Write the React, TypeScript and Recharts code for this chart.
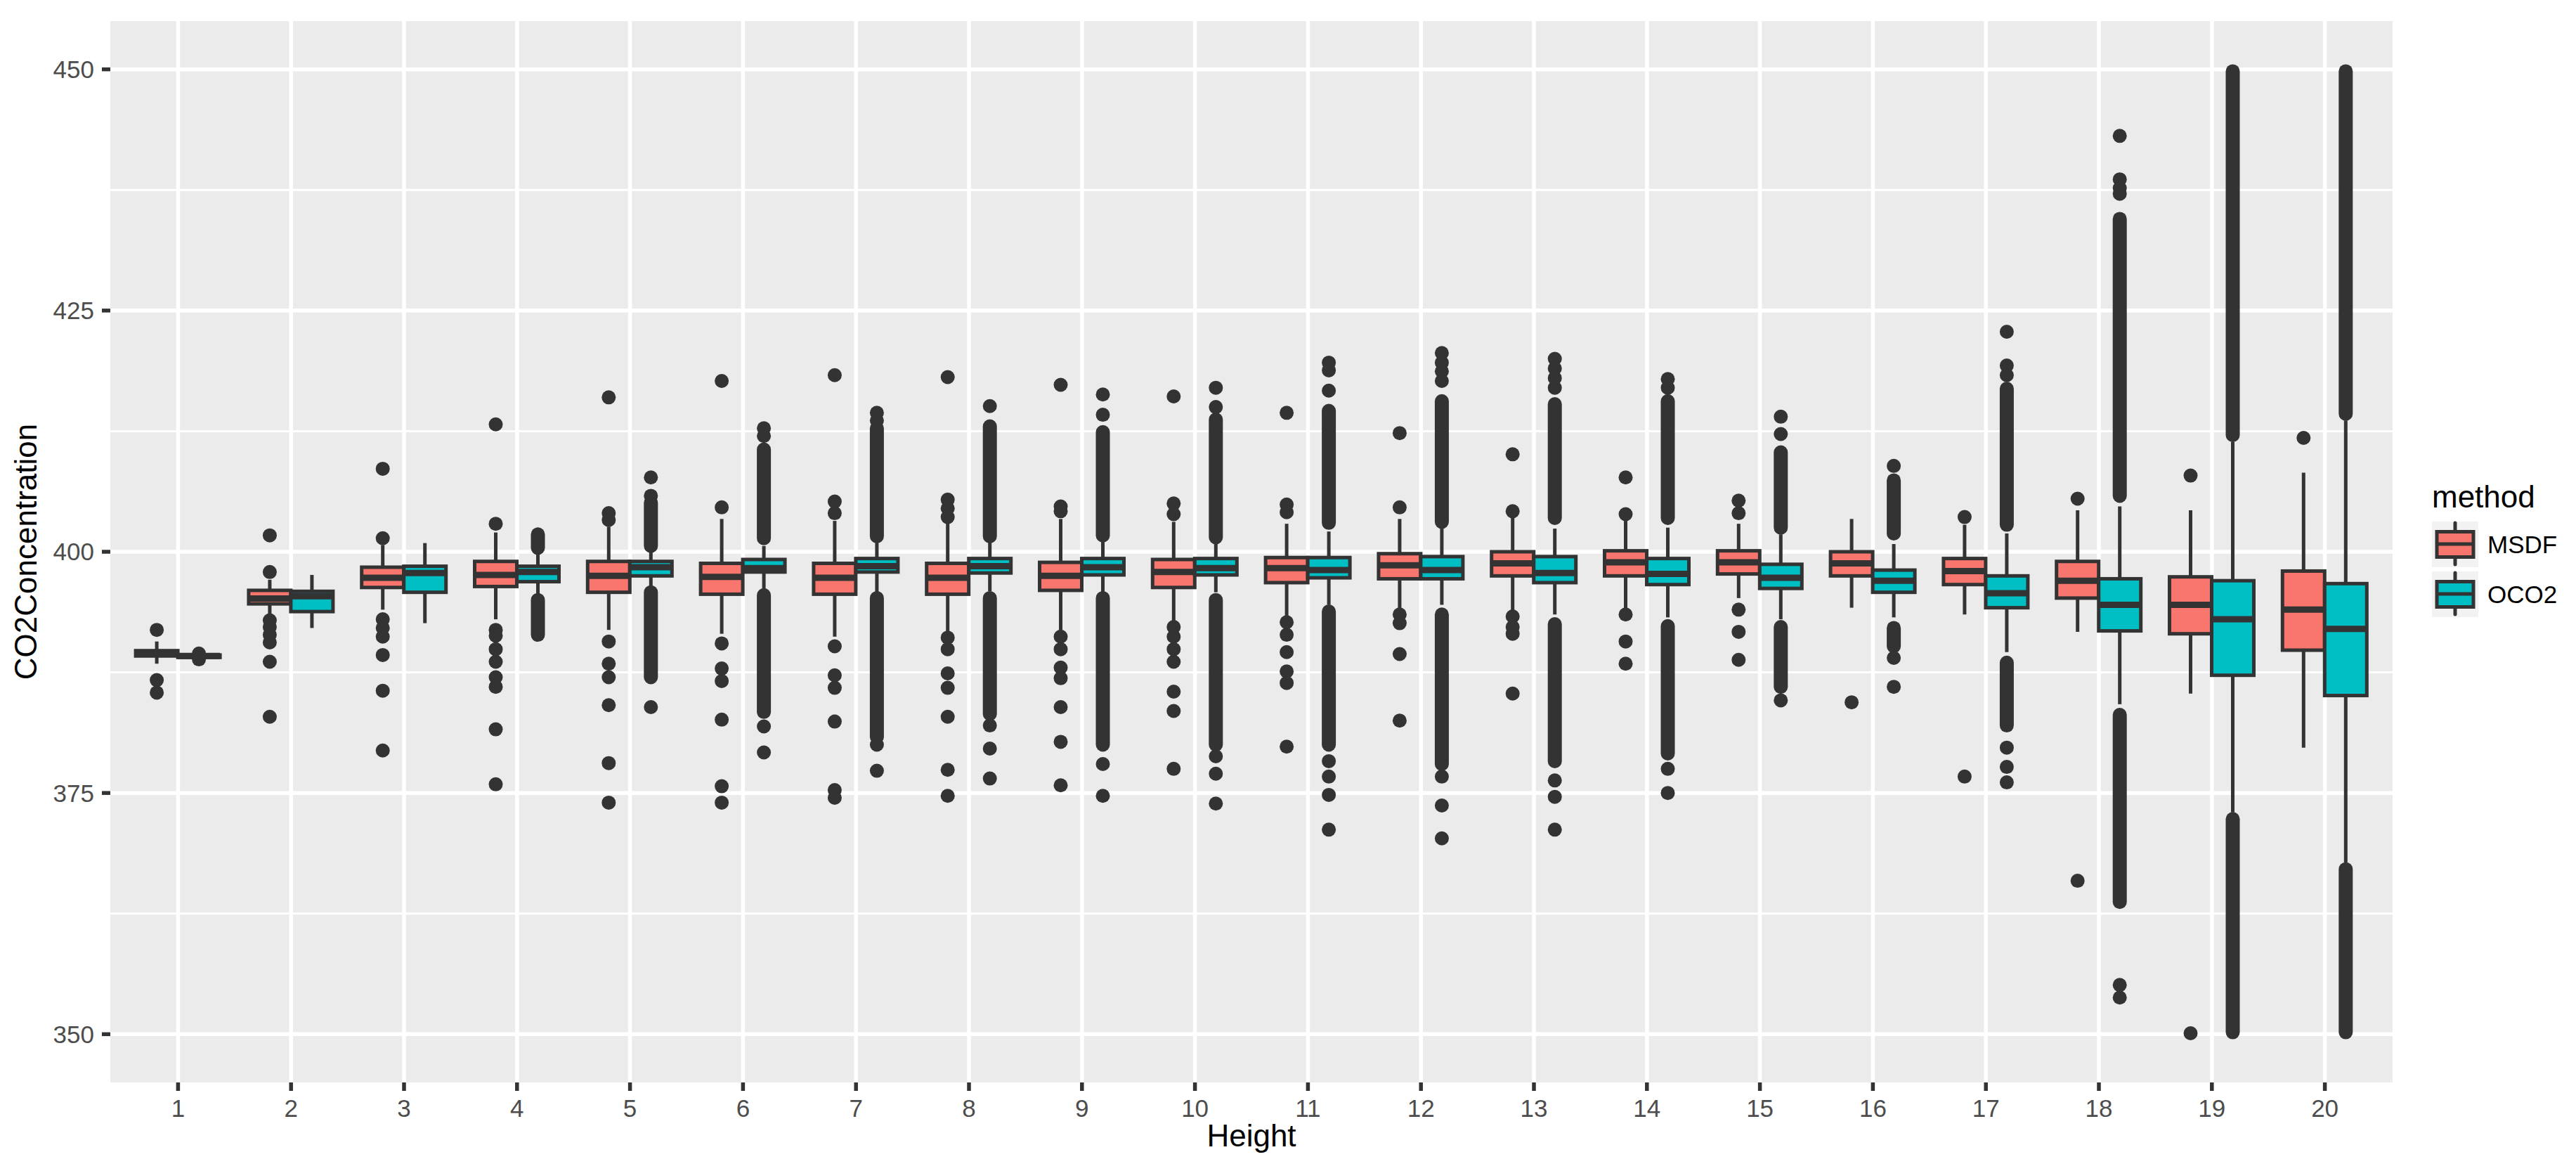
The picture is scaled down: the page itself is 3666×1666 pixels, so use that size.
import React from "react";
import { Bar, CartesianGrid, ComposedChart, Label, XAxis, YAxis } from "recharts";

const heights = ["1", "2", "3", "4", "5", "6", "7", "8", "9", "10", "11", "12", "13", "14", "15", "16", "17", "18", "19", "20"];
const yTicks = [350, 375, 400, 425, 450];
const yMinorTicks = [362.5, 387.5, 412.5, 437.5];
const yDomain = [345, 455];

// MSDF box statistics, one value per height
const msdfLower = [388.4, 393.4, 394.0, 393.0, 391.9, 391.5, 391.2, 391.5, 391.9, 392.7, 393.3, 394.0, 393.8, 393.8, 395.2, 394.2, 393.5, 391.7, 385.3, 379.7];
const msdfQ1 = [389.2, 394.6, 396.3, 396.4, 395.8, 395.6, 395.6, 395.6, 396.0, 396.3, 396.8, 397.2, 397.5, 397.5, 397.7, 397.5, 396.6, 395.2, 391.5, 389.8];
const msdfMedian = [389.45, 395.15, 397.3, 397.6, 397.5, 397.4, 397.3, 397.3, 397.5, 397.9, 398.3, 398.6, 398.8, 398.9, 398.9, 398.8, 398.0, 397.0, 394.5, 394.0];
const msdfQ3 = [389.75, 396.0, 398.4, 399.0, 399.0, 398.8, 398.8, 398.8, 398.9, 399.2, 399.4, 399.8, 400.0, 400.1, 400.1, 400.0, 399.3, 399.0, 397.4, 398.0];
const msdfUpper = [390.7, 397.1, 400.7, 402.0, 402.6, 403.4, 403.2, 403.2, 403.4, 403.1, 402.9, 403.4, 403.6, 403.2, 402.9, 403.4, 402.8, 404.3, 404.3, 408.2];
const msdfOutliers = [
  [391.9, 386.7, 385.4],
  [401.7, 397.9, 392.9, 392.2, 391.4, 390.6, 388.6, 382.9],
  [408.6, 401.4, 393.0, 392.1, 391.2, 389.3, 385.6, 379.4],
  [413.2, 402.9, 391.9, 391.3, 389.9, 388.6, 387.0, 386.0, 381.6, 375.9],
  [416.0, 404.0, 403.3, 390.7, 388.4, 387.0, 384.1, 378.1, 374.0],
  [417.7, 404.6, 390.5, 387.9, 386.6, 382.6, 375.7, 374.0],
  [418.3, 405.2, 404.0, 390.2, 387.2, 385.9, 382.4, 375.3, 374.5],
  [418.1, 405.4, 404.5, 403.6, 391.1, 389.9, 387.4, 385.9, 382.9, 377.4, 374.7],
  [417.3, 404.7, 404.2, 391.2, 389.9, 388.0, 386.9, 383.9, 380.3, 375.8],
  [416.1, 405.0, 403.9, 392.2, 391.2, 389.9, 388.6, 385.5, 383.5, 377.5],
  [414.4, 404.9, 404.1, 392.7, 391.4, 389.6, 387.6, 386.4, 379.8],
  [412.3, 404.6, 393.5, 392.6, 389.4, 382.5],
  [410.1, 404.2, 393.3, 392.2, 391.5, 385.3],
  [407.7, 403.9, 393.5, 390.7, 388.4],
  [405.3, 404.0, 394.0, 391.7, 388.8],
  [384.4],
  [403.6, 376.7],
  [405.5, 365.9],
  [407.9, 350.1],
  [411.8],
];

// OCO2 box statistics
const oco2Lower = [389.0, 392.1, 392.6, 395.6, 396.3, 396.2, 395.8, 395.9, 395.8, 395.8, 394.5, 394.5, 393.5, 393.2, 393.0, 393.2, 389.6, 384.2, 373.0, 367.8];
const oco2Q1 = [389.05, 393.8, 395.8, 396.9, 397.5, 397.9, 397.9, 397.8, 397.6, 397.6, 397.3, 397.2, 396.8, 396.6, 396.2, 395.8, 394.2, 391.8, 387.2, 385.1];
const oco2Median = [389.2, 395.4, 397.8, 397.9, 398.4, 398.3, 398.5, 398.5, 398.4, 398.3, 398.1, 398.1, 397.8, 397.7, 397.3, 397.0, 395.7, 394.5, 393.0, 392.0];
const oco2Q3 = [389.3, 395.9, 398.5, 398.5, 399.0, 399.2, 399.3, 399.3, 399.3, 399.3, 399.4, 399.5, 399.5, 399.3, 398.7, 398.1, 397.5, 397.2, 397.0, 396.7];
const oco2Upper = [389.35, 397.6, 400.9, 400.0, 400.2, 400.6, 401.0, 401.0, 401.1, 401.0, 402.1, 402.4, 402.4, 402.5, 401.8, 400.8, 401.9, 404.7, 411.4, 413.6];
const oco2Outliers = [
  [388.85, 389.45],
  [],
  [],
  [],
  [407.7, 405.8, 383.9],
  [412.8, 412.0, 381.9, 379.2],
  [414.4, 413.6, 380.0, 377.3],
  [415.1, 382.0, 379.6, 376.5],
  [416.3, 414.2, 378.0, 374.7],
  [417.0, 415.0, 378.8, 377.0, 373.9],
  [419.6, 418.8, 416.7, 378.3, 376.7, 374.8, 371.2],
  [420.6, 419.6, 418.7, 417.7, 376.7, 373.7, 370.3],
  [420.0, 419.0, 418.0, 417.0, 376.3, 374.6, 371.2],
  [417.9, 417.0, 377.5, 375.0],
  [414.0, 412.2, 384.6],
  [408.9, 389.0, 386.0],
  [422.8, 419.3, 418.3, 379.7, 377.7, 376.1],
  [443.1, 438.6, 437.7, 437.1, 355.1, 353.8],
  [],
  [],
];
// stretches where OCO2 outliers are so dense they merge into a solid column: [from, to]
const oco2OutlierRuns = [
  [],
  [],
  [],
  [[400.4, 401.8], [391.4, 395.0]],
  [[400.6, 405.1], [387.0, 395.8]],
  [[401.4, 410.6], [383.4, 395.5]],
  [[401.6, 412.8], [380.8, 395.2]],
  [[401.6, 413.0], [383.2, 395.2]],
  [[401.7, 412.4], [380.0, 395.2]],
  [[401.5, 413.7], [380.0, 395.0]],
  [[403.0, 414.6], [380.0, 393.8]],
  [[403.1, 415.6], [378.0, 393.5]],
  [[403.5, 415.3], [378.3, 392.5]],
  [[403.5, 415.6], [379.1, 392.3]],
  [[402.5, 410.3], [386.0, 392.2]],
  [[401.9, 407.4], [390.2, 392.1]],
  [[402.8, 416.9], [382.0, 388.5]],
  [[405.8, 434.5], [363.7, 383.1]],
  [[412.1, 449.8], [350.2, 372.3]],
  [[414.3, 449.8], [350.2, 367.1]],
];

const MSDF_FILL = "#F8766D";
const OCO2_FILL = "#00BFC4";
const INK = "#333333";
const PT = 10;

type Stats = {
  lower: number;
  q1: number;
  median: number;
  q3: number;
  upper: number;
  outliers: number[];
  runs: number[][];
};

function spanOf(s: Stats) {
  const vals = [s.lower, s.upper, ...s.outliers, ...s.runs.flat()];
  return [Math.min(...vals), Math.max(...vals)];
}

const rows = heights.map((h, i) => {
  const msdf: Stats = {
    lower: msdfLower[i],
    q1: msdfQ1[i],
    median: msdfMedian[i],
    q3: msdfQ3[i],
    upper: msdfUpper[i],
    outliers: msdfOutliers[i],
    runs: [],
  };
  const oco2: Stats = {
    lower: oco2Lower[i],
    q1: oco2Q1[i],
    median: oco2Median[i],
    q3: oco2Q3[i],
    upper: oco2Upper[i],
    outliers: oco2Outliers[i],
    runs: oco2OutlierRuns[i],
  };
  return { height: h, msdf, oco2, msdfSpan: spanOf(msdf), oco2Span: spanOf(oco2) };
});

// the bar spans [min, max] of the group; everything else is placed on the same linear scale
function boxShape(key: "msdf" | "oco2", fill: string) {
  return (props: any) => {
    const { x, y, width, height, payload } = props;
    const s: Stats = payload[key];
    const [lo, hi] = payload[key + "Span"];
    const top = Math.min(y, y + height);
    const bottom = Math.max(y, y + height);
    const py = (v: number) => top + ((hi - v) / (hi - lo)) * (bottom - top);
    const cx = x + width / 2;
    return (
      <g>
        {s.runs.map(([a, b], j) => (
          <rect key={"r" + j} x={cx - PT} y={py(b) - PT} width={PT * 2} height={py(a) - py(b) + PT * 2} rx={PT} ry={PT} fill={INK} />
        ))}
        {s.outliers.map((v, j) => (
          <circle key={"o" + j} cx={cx} cy={py(v)} r={PT} fill={INK} />
        ))}
        <line x1={cx} x2={cx} y1={py(s.upper)} y2={py(s.q3)} stroke={INK} strokeWidth={5} />
        <line x1={cx} x2={cx} y1={py(s.q1)} y2={py(s.lower)} stroke={INK} strokeWidth={5} />
        <rect x={x} y={py(s.q3)} width={width} height={py(s.q1) - py(s.q3)} fill={fill} stroke={INK} strokeWidth={5} />
        <line x1={x} x2={x + width} y1={py(s.median)} y2={py(s.median)} stroke={INK} strokeWidth={9} />
      </g>
    );
  };
}

function yLines(values: number[]) {
  return (p: any) => {
    const s = p?.yAxis?.scale;
    const pts = values.map((v) => (typeof s === "function" ? s(v) : NaN));
    if (pts.every((v) => Number.isFinite(v))) return pts;
    const o = p.offset;
    return values.map((v) => o.top + ((yDomain[1] - v) / (yDomain[1] - yDomain[0])) * o.height);
  };
}

function LegendKey({ y, fill }: { y: number; fill: string }) {
  return (
    <g>
      <rect x={3461} y={y} width={66} height={65} fill="#F2F2F2" />
      <line x1={3494} x2={3494} y1={y + 2} y2={y + 61} stroke={INK} strokeWidth={5} strokeLinecap="round" />
      <rect x={3468} y={y + 14.5} width={52} height={36} fill={fill} stroke={INK} strokeWidth={5} />
      <line x1={3468} x2={3520} y1={y + 32} y2={y + 32} stroke={INK} strokeWidth={5} />
    </g>
  );
}

export default function App() {
  return (
    <div
      style={{
        position: "absolute",
        left: 0,
        top: 0,
        width: 3666,
        height: 1666,
        background: "#FFFFFF",
        fontFamily: "'Liberation Sans', Arial, sans-serif",
      }}
    >
      <ComposedChart
        width={3666}
        height={1666}
        data={rows}
        margin={{ top: 30, right: 261, bottom: 0, left: 0 }}
        barCategoryGap="12.5%"
        barGap={0}
      >
        <CartesianGrid
          fill="#EBEBEB"
          stroke="#FFFFFF"
          strokeWidth={3}
          vertical={false}
          horizontalCoordinatesGenerator={yLines(yMinorTicks)}
        />
        <CartesianGrid
          stroke="#FFFFFF"
          strokeWidth={5.5}
          horizontalCoordinatesGenerator={yLines(yTicks)}
          verticalCoordinatesGenerator={(p: any) => {
            const s = p?.xAxis?.scale;
            const bw = s && typeof s.bandwidth === "function" ? s.bandwidth() : 0;
            const pts = heights.map((h) => (typeof s === "function" ? s(h) + bw / 2 : NaN));
            if (pts.every((v) => Number.isFinite(v))) return pts;
            const o = p.offset;
            const band = (o.width - 32) / heights.length;
            return heights.map((_, i) => o.left + 16 + (i + 0.5) * band);
          }}
        />
        <XAxis
          dataKey="height"
          type="category"
          interval={0}
          padding={{ left: 16, right: 16 }}
          height={126}
          axisLine={false}
          tickSize={12}
          tickMargin={12}
          tickLine={{ stroke: INK, strokeWidth: 5.5 }}
          tick={{ fontSize: 35, fill: "#4D4D4D" }}
        >
          <Label
            content={(p: any) => {
              const vb = p.viewBox ?? { x: 157, y: 1540, width: 3248, height: 126 };
              return (
                <text x={vb.x + vb.width / 2} y={vb.y + 91} textAnchor="middle" fontSize={44} fill="#000000">
                  Height
                </text>
              );
            }}
          />
        </XAxis>
        <YAxis
          type="number"
          domain={yDomain}
          ticks={yTicks}
          allowDataOverflow
          width={157}
          axisLine={false}
          tickSize={12}
          tickMargin={11}
          tickLine={{ stroke: INK, strokeWidth: 5.5 }}
          tick={{ fontSize: 35, fill: "#4D4D4D" }}
        >
          <Label
            content={(p: any) => {
              const vb = p.viewBox ?? { x: 0, y: 30, width: 157, height: 1510 };
              const cy = vb.y + vb.height / 2;
              const bx = vb.x + 52;
              return (
                <text x={bx} y={cy} transform={`rotate(-90 ${bx} ${cy})`} textAnchor="middle" fontSize={44} fill="#000000">
                  CO2Concentration
                </text>
              );
            }}
          />
        </YAxis>
        <Bar dataKey="msdfSpan" isAnimationActive={false} shape={boxShape("msdf", MSDF_FILL)} />
        <Bar dataKey="oco2Span" isAnimationActive={false} shape={boxShape("oco2", OCO2_FILL)} />
      </ComposedChart>
      <svg
        width={3666}
        height={1666}
        style={{ position: "absolute", left: 0, top: 0, pointerEvents: "none" }}
      >
        <text x={3461} y={722} fontSize={44} fill="#000000">
          method
        </text>
        <LegendKey y={742} fill={MSDF_FILL} />
        <LegendKey y={813} fill={OCO2_FILL} />
        <text x={3540} y={787} fontSize={35} fill="#000000">
          MSDF
        </text>
        <text x={3540} y={858} fontSize={35} fill="#000000">
          OCO2
        </text>
      </svg>
    </div>
  );
}
